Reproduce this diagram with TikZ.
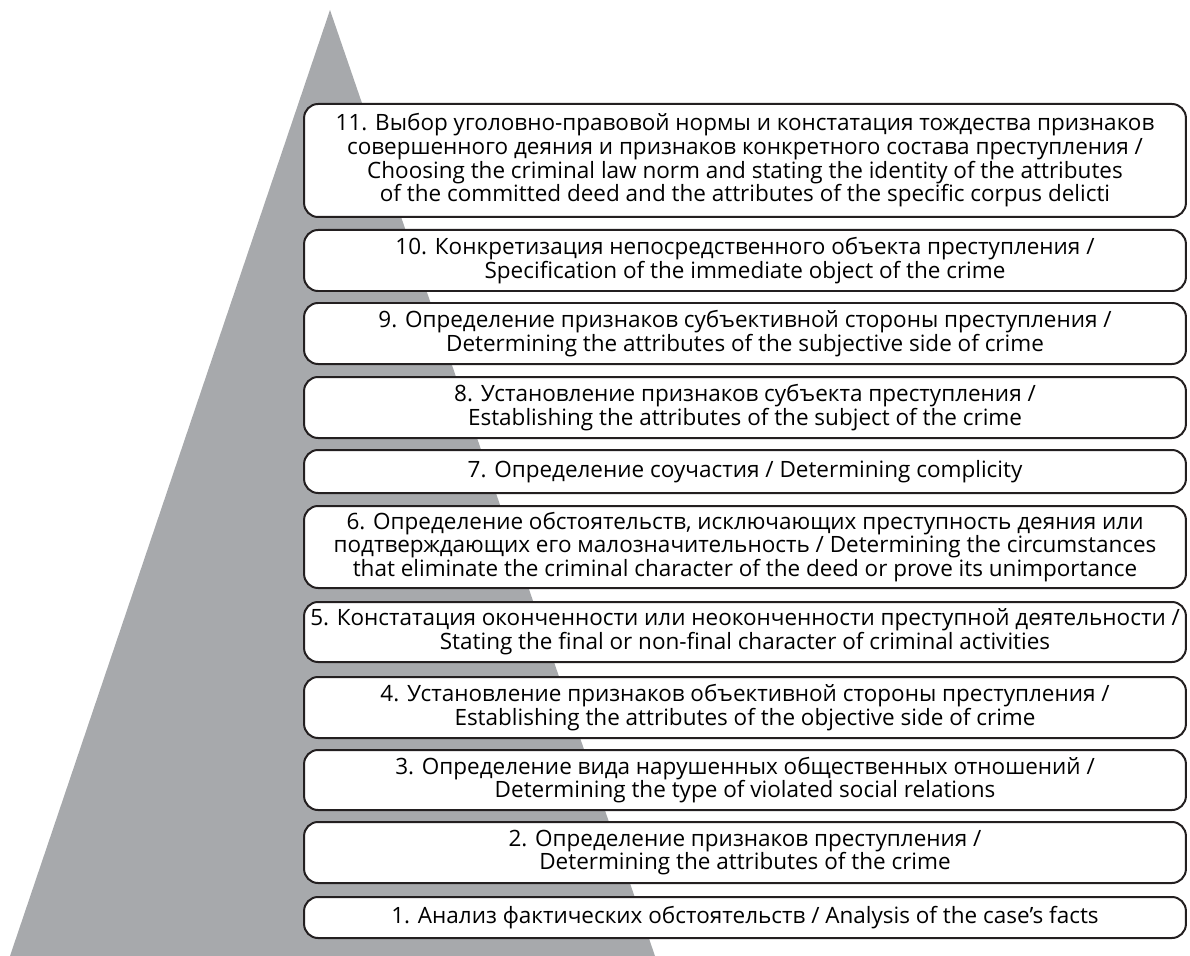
\documentclass[tikz,border=0pt]{standalone}
\usepackage{fontspec}
\setmainfont{Open Sans}
\usepackage{xcolor}
\definecolor{pyramidgray}{RGB}{167,169,172}
\definecolor{boxline}{RGB}{35,31,32}

\begin{document}
\begin{tikzpicture}[x=0.02cm, y=-0.02cm,
    every node/.style={inner sep=0pt, outer sep=0pt},
    stage/.style={draw=boxline, line width=0.04cm, fill=white, rounded corners=0.28cm,
        minimum width=17.64cm, minimum height=#1*0.02cm, align=center,
        font=\fontsize{12.8}{13.5}\selectfont}]
    % Graphic area
    \useasboundingbox (0,0) rectangle (1190,956);
    \fill[pyramidgray] (330,10) -- (655,956) -- (10,956) -- cycle;

    % Stages, from top to bottom
    \node[stage=113] (s11) at (745,160.5) {11. Выбор уголовно-правовой нормы и констатация тождества признаков\\
        совершенного деяния и признаков конкретного состава преступления /\\
        Choosing the criminal law norm and stating the identity of the attributes\\
        of the committed deed and the attributes of the specific corpus delicti};
    \node[stage=61] (s10) at (745,260.5) {10. Конкретизация непосредственного объекта преступления /\\
        Specification of the immediate object of the crime};
    \node[stage=61] (s9) at (745,333.5) {9. Определение признаков субъективной стороны преступления /\\
        Determining the attributes of the subjective side of crime};
    \node[stage=61] (s8) at (745,407.5) {8. Установление признаков субъекта преступления /\\
        Establishing the attributes of the subject of the crime};
    \node[stage=43] (s7) at (745,471.5) {7. Определение соучастия / Determining complicity};
    \node[stage=82] (s6) at (745,547) {6. Определение обстоятельств, исключающих преступность деяния или\\
        подтверждающих его малозначительность / Determining the circumstances\\
        that eliminate the criminal character of the deed or prove its unimportance};
    \node[stage=60] (s5) at (745,632) {5. Констатация оконченности или неоконченности преступной деятельности /\\
        Stating the final or non-final character of criminal activities};
    \node[stage=61] (s4) at (745,707.5) {4. Установление признаков объективной стороны преступления /\\
        Establishing the attributes of the objective side of crime};
    \node[stage=60] (s3) at (745,780) {3. Определение вида нарушенных общественных отношений /\\
        Determining the type of violated social relations};
    \node[stage=61] (s2) at (745,852.5) {2. Определение признаков преступления /\\
        Determining the attributes of the crime};
    \node[stage=41] (s1) at (745,917.5) {1. Анализ фактических обстоятельств / Analysis of the case’s facts};

\end{tikzpicture}
\end{document}
